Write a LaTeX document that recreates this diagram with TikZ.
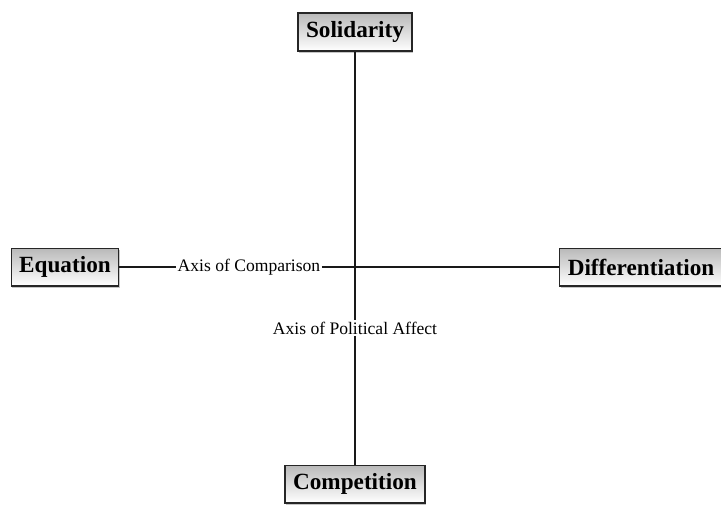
\documentclass[tikz,border=0pt]{standalone}
\usepackage{fontspec}
\setmainfont{Liberation Serif}
\usetikzlibrary{shadows}

\begin{document}
\begin{tikzpicture}
  \tikzset{concept/.style={draw=black!85, line width=1pt, top color=gray!55, bottom color=white,
      drop shadow={shadow xshift=0.8pt, shadow yshift=-1.5pt, opacity=0.45},
      font=\fontsize{16.5}{19}\selectfont\bfseries, minimum height=0.94cm, inner xsep=0.2cm},
    axislabel/.style={fill=white, inner sep=1pt, font=\fontsize{12.5}{15}\selectfont},
    axis/.style={line width=1.8pt, black!90}}
  \useasboundingbox (0,0) rectangle (18.025,12.6);
  \node[concept] (sol) at (8.875,11.8) {Solidarity};
  \node[concept] (equ) at (1.625,5.925) {Equation};
  \node[concept] (diff) at (16.025,5.925) {Differentiation};
  \node[concept] (comp) at (8.875,0.5) {Competition};
  \node[axislabel] (cmp) at (6.225,5.925) {Axis of Comparison};
  \node[axislabel] (paff) at (8.875,4.4) {Axis of Political Affect};
  \draw[axis] (equ) -- (cmp) -- (diff);
  \draw[axis] (sol) -- (paff) -- (comp);
\end{tikzpicture}
\end{document}
